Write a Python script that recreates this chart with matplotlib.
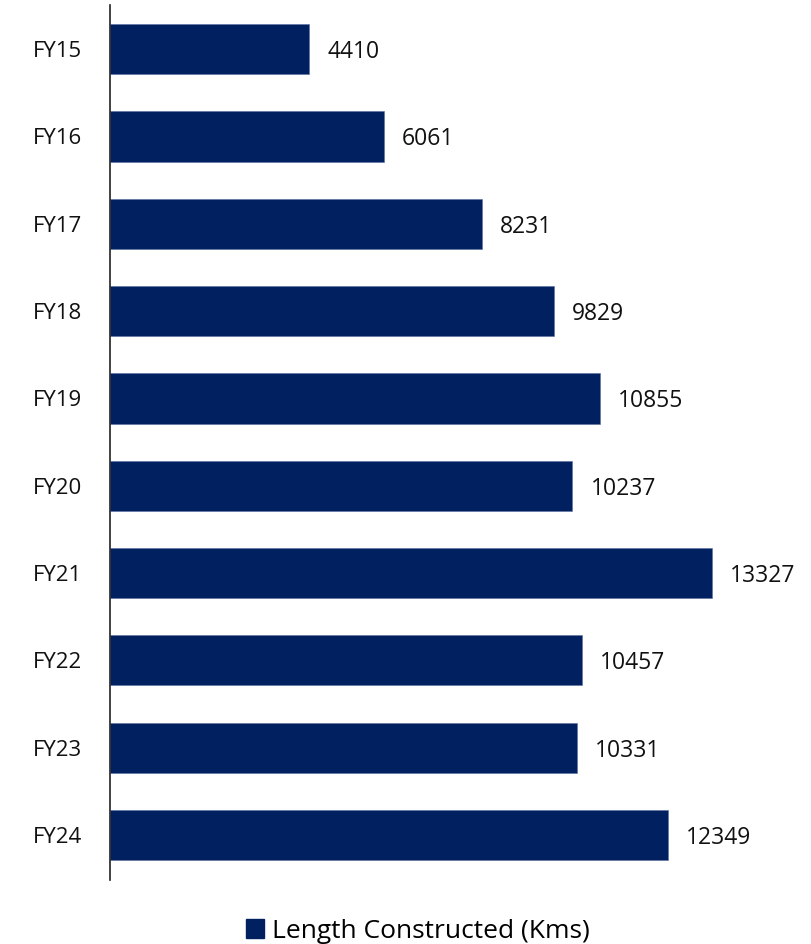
import matplotlib
matplotlib.use("Agg")
import matplotlib.pyplot as plt
from matplotlib.patches import Patch

categories = ["FY15", "FY16", "FY17", "FY18", "FY19", "FY20", "FY21", "FY22", "FY23", "FY24"]
values = [4410, 6061, 8231, 9829, 10855, 10237, 13327, 10457, 10331, 12349]
series_name = "Length Constructed (Kms)"

plt.rcParams['font.family'] = ['Open Sans', 'DejaVu Sans']
color = "#002060"

W, H = 812, 944
fig = plt.figure(figsize=(W / 100, H / 100), dpi=100)
ax = fig.add_axes([110 / W, 1 - 880 / H, 690 / W, 875 / H])

ypos = list(range(len(categories)))
ax.barh(ypos, values, height=0.575, color=color, edgecolor="#5a6fa0", linewidth=0.4)
ax.set_ylim(len(categories) - 0.485, -0.505)
ax.set_xlim(0, 690 / (602 / 13327))

for y, v in zip(ypos, values):
    ax.annotate(f"{v}", xy=(v, y), xytext=(13, 0), textcoords="offset points",
                ha="left", va="center_baseline", fontsize=16.5, fontweight="medium",
                color="#111111")

ax.set_yticks(ypos)
ax.set_yticklabels(categories, fontsize=16, fontweight="medium", color="#111111")
ax.tick_params(axis="y", length=0, pad=20)
ax.set_xticks([])
for s in ["top", "right", "bottom"]:
    ax.spines[s].set_visible(False)
ax.spines["left"].set_color("#222222")
ax.spines["left"].set_linewidth(1.2)

handle = Patch(facecolor=color, edgecolor=color)
fig.legend([handle], [series_name], loc="center", bbox_to_anchor=(418 / W, 1 - 931 / H),
           frameon=False, handlelength=0.7, handleheight=0.7,
           handletextpad=0.3, borderpad=0,
           prop={"size": 19, "weight": "medium"})

fig.savefig("out.png", dpi=100)
